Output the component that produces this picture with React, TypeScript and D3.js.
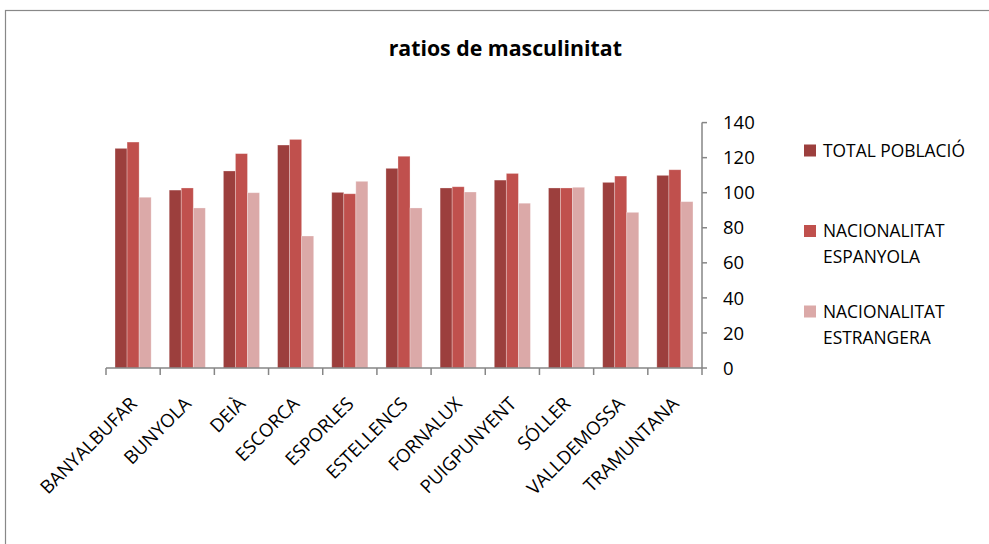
import React from "react";
import * as d3 from "d3";

const categories = ["BANYALBUFAR", "BUNYOLA", "DEIÀ", "ESCORCA", "ESPORLES", "ESTELLENCS", "FORNALUX", "PUIGPUNYENT", "SÓLLER", "VALLDEMOSSA", "TRAMUNTANA"];
const seriesNames = ["TOTAL POBLACIÓ", "NACIONALITAT ESPANYOLA", "NACIONALITAT ESTRANGERA"];
const totalPoblacio = [125.3, 101.5, 112.4, 127.2, 100.2, 113.9, 102.7, 107.2, 102.7, 105.9, 109.9];
const nacionalitatEspanyola = [128.9, 102.7, 122.3, 130.4, 99.4, 120.8, 103.4, 111.0, 102.7, 109.5, 113.1];
const nacionalitatEstrangera = [97.4, 91.3, 100.0, 75.3, 106.5, 91.3, 100.4, 94.0, 103.1, 88.8, 94.9];
const yTicks = [0, 20, 40, 60, 80, 100, 120, 140];
const colors = ["#9C3F3D", "#C0504D", "#DBA9A8"];
const legendLines = [["TOTAL POBLACIÓ"], ["NACIONALITAT", "ESPANYOLA"], ["NACIONALITAT", "ESTRANGERA"]];

const FONT = "'Open Sans', sans-serif";

export default function App() {
  const W = 989, H = 544;
  const x0 = 106, x1 = 702, yBase = 368, yTop = 122.6;
  const x = d3.scaleBand<string>().domain(categories).range([x0, x1]).paddingInner(0).paddingOuter(0);
  const y = d3.scaleLinear().domain([0, 140]).range([yBase, yTop]);
  const band = x.bandwidth();
  const barW = band / 4.5;
  const series = [totalPoblacio, nacionalitatEspanyola, nacionalitatEstrangera];
  const groupStart = (band - 3 * barW) / 2;

  return (
    <svg width={W} height={H} style={{ position: "fixed", left: 0, top: 0, background: "#fff" }} fontFamily={FONT}>
      <rect x={0} y={0} width={W} height={H} fill="#fff" />
      <rect x={5.5} y={10.5} width={W + 20} height={H + 20} fill="none" stroke="#888" strokeWidth={1.2} />
      <text x={505.3} y={56} textAnchor="middle" fontSize={21.3} fontWeight="bold" fill="#000">ratios de masculinitat</text>

      {series.map((vals, si) =>
        vals.map((v, ci) => (
          <rect
            key={`${si}-${ci}`}
            x={(x(categories[ci]) as number) + groupStart + si * barW}
            y={y(v)}
            width={barW}
            height={yBase - y(v)}
            fill={colors[si]}
            stroke="#ffffff"
            strokeOpacity={0.35}
            strokeWidth={0.8}
          />
        ))
      )}

      {/* x axis */}
      <line x1={x0} x2={x1} y1={yBase} y2={yBase} stroke="#868686" strokeWidth={1.5} />
      {categories.map((c, i) => (
        <line key={`xt${i}`} x1={x0 + i * band} x2={x0 + i * band} y1={yBase} y2={yBase + 7} stroke="#868686" strokeWidth={1.5} />
      ))}
      <line x1={x1} x2={x1} y1={yBase} y2={yBase + 7} stroke="#868686" strokeWidth={1.5} />
      {categories.map((c, i) => {
        const cx = (x(c) as number) + band / 2 + 5;
        const cy = yBase + 37;
        return (
          <text key={`xl${i}`} x={cx} y={cy} transform={`rotate(-45 ${cx} ${cy})`} textAnchor="end" fontSize={18.5} fill="#000">{c}</text>
        );
      })}

      {/* y axis */}
      <line x1={x1} x2={x1} y1={yTop} y2={yBase} stroke="#868686" strokeWidth={1.5} />
      {yTicks.map((t) => (
        <g key={`yt${t}`}>
          <line x1={x1} x2={x1 + 5} y1={y(t)} y2={y(t)} stroke="#868686" strokeWidth={1.5} />
          <text x={723} y={y(t)} dy="0.36em" fontSize={18.5} fill="#000">{t}</text>
        </g>
      ))}

      {/* legend */}
      {legendLines.map((lines, i) => {
        const yc = 150.5 + i * 80.5;
        return (
          <g key={`lg${i}`}>
            <rect x={804} y={yc - 6} width={12} height={12} fill={colors[i]} />
            {lines.map((l, j) => (
              <text key={j} x={823} y={yc + j * 26} dy="0.36em" fontSize={17.4} fill="#000">{l}</text>
            ))}
          </g>
        );
      })}
    </svg>
  );
}
